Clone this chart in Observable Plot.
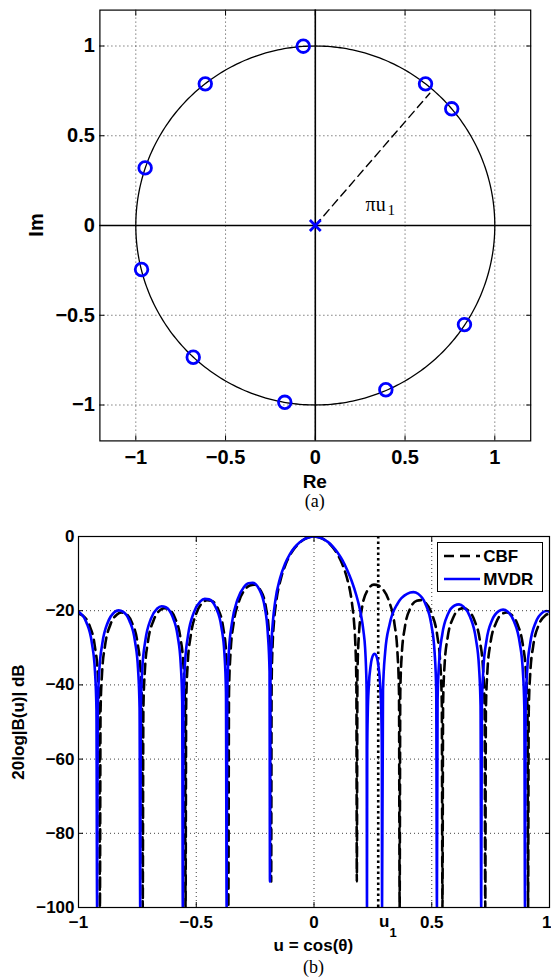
<!DOCTYPE html>
<html><head><meta charset="utf-8">
<script src="https://cdn.jsdelivr.net/npm/d3@7"></script>
<script src="https://cdn.jsdelivr.net/npm/@observablehq/plot@0.6"></script>
<style>
html,body{margin:0;padding:0;background:#fff;}
#wrap{position:relative;width:551px;height:977px;overflow:hidden;background:#fff;}
#wrap svg{position:absolute;left:0;}
.abs{position:absolute;white-space:nowrap;line-height:1;color:#000;z-index:2;}
.lab{font-family:"Liberation Sans",Arial,sans-serif;font-weight:bold;}
.cap{font-family:"Liberation Serif","Times New Roman",serif;}
</style></head><body><div id="wrap"></div>
<script>
// ---------- (a) zeros of the MVDR beampattern on the unit circle ----------
const zeroRe = [-0.067, -0.613, -0.948, -0.968, -0.680, -0.170, 0.393, 0.831, 0.760, 0.614];
const zeroIm = [ 0.999,  0.789,  0.321, -0.245, -0.734, -0.985, -0.915, -0.552, 0.650, 0.789];
const armRe = [0, 0.638];          // dashed radius at angle pi*u1
const armIm = [0, 0.737];
const originRe = [0];
const originIm = [0];
const armLabelPos = [0.28, 0.117];
const ticksA = [-1, -0.5, 0, 0.5, 1];

// ---------- (b) beampatterns ----------
const u1 = 0.2727;
const cbfU = [
 -1, -0.9818, -0.9545, -0.9309, -0.9182, -0.9118, -0.9091,
 -0.9064, -0.9, -0.8873, -0.8636, -0.8364, -0.8182, -0.8, -0.7727, -0.7491, -0.7364, -0.73, -0.7273,
 -0.7245, -0.7182, -0.7055, -0.6818, -0.6545, -0.6364, -0.6182, -0.5909, -0.5673, -0.5545, -0.5482, -0.5455,
 -0.5427, -0.5364, -0.5236, -0.5, -0.4727, -0.4545, -0.4364, -0.4091, -0.3855, -0.3727, -0.3664, -0.3636,
 -0.3609, -0.3545, -0.3418, -0.3182, -0.2909, -0.2727, -0.2545, -0.2273, -0.2036, -0.1909, -0.1846, -0.1818,
 -0.18, -0.175, -0.17, -0.16, -0.14, -0.12, -0.10, -0.08, -0.06, -0.04, -0.02,
 0,
 0.02, 0.04, 0.06, 0.08, 0.10, 0.12, 0.14, 0.16, 0.17, 0.175, 0.18,
 0.1818, 0.1846, 0.1909, 0.2036, 0.2273, 0.2545, 0.2727, 0.2909, 0.3182, 0.3418, 0.3545, 0.3609,
 0.3636, 0.3664, 0.3727, 0.3855, 0.4091, 0.4364, 0.4545, 0.4727, 0.5, 0.5236, 0.5364, 0.5427,
 0.5455, 0.5482, 0.5545, 0.5673, 0.5909, 0.6182, 0.6364, 0.6545, 0.6818, 0.7055, 0.7182, 0.7245,
 0.7273, 0.73, 0.7364, 0.7491, 0.7727, 0.8, 0.8182, 0.8364, 0.8636, 0.8873, 0.9, 0.9064,
 0.9091, 0.9118, 0.9182, 0.9309, 0.9545, 0.9818, 1
];
const cbfDb = [
 -20.8, -21.3, -23.8, -29.5, -36.9, -47.2, -100,
 -47.2, -36.8, -29.4, -23.6, -21.0, -20.5, -20.8, -23.3, -28.8, -36.2, -46.5, -100,
 -46.5, -36.1, -28.5, -22.7, -19.9, -19.3, -19.6, -21.9, -27.3, -34.6, -44.9, -100,
 -44.9, -34.4, -26.8, -20.8, -17.8, -17.15, -17.3, -19.3, -24.6, -31.8, -42.0, -100,
 -41.9, -31.4, -23.6, -17.4, -14.1, -13.2, -12.96, -14.5, -19.3, -26.3, -36.4, -93,
 -39.8, -28.1, -23.1, -17.4, -11.2, -7.43, -4.82, -2.94, -1.60, -0.70, -0.17,
 0,
 -0.17, -0.70, -1.60, -2.94, -4.82, -7.43, -11.2, -17.4, -23.1, -28.1, -39.8,
 -93, -36.4, -26.3, -19.3, -14.5, -12.96, -13.2, -14.1, -17.4, -23.6, -31.4, -41.9,
 -100, -42.0, -31.8, -24.6, -19.3, -17.3, -17.15, -17.8, -20.8, -26.8, -34.4, -44.9,
 -100, -44.9, -34.6, -27.3, -21.9, -19.6, -19.3, -19.9, -22.7, -28.5, -36.1, -46.5,
 -100, -46.5, -36.2, -28.8, -23.3, -20.8, -20.5, -21.0, -23.6, -29.4, -36.8, -47.2,
 -100, -47.2, -36.9, -29.5, -23.8, -21.3, -20.8
];
const mvdrU = [
 -1, -0.9942, -0.9668, -0.943, -0.9302, -0.9238, -0.921,
 -0.9183, -0.9119, -0.899, -0.8753, -0.8478, -0.8295, -0.8112, -0.7838, -0.760, -0.7472, -0.7407, -0.738,
 -0.7353, -0.729, -0.7163, -0.6928, -0.6656, -0.6475, -0.6294, -0.6023, -0.5787, -0.5661, -0.5597, -0.557,
 -0.5542, -0.5477, -0.5347, -0.5105, -0.4826, -0.464, -0.4454, -0.4175, -0.3933, -0.3803, -0.3738, -0.371,
 -0.3682, -0.3618, -0.3489, -0.325, -0.2974, -0.279, -0.2606, -0.233, -0.2091, -0.1962, -0.1888, -0.187,
 -0.1851, -0.18, -0.1748, -0.1646, -0.144, -0.1234, -0.1029, -0.0823, -0.0617, -0.0411, -0.0206,
 0,
 0.02, 0.04, 0.06, 0.08, 0.10, 0.12, 0.14, 0.16, 0.18, 0.19, 0.195, 0.20, 0.21, 0.217, 0.221, 0.2235, 0.225,
 0.226, 0.2282, 0.2327, 0.241, 0.2506, 0.257, 0.2634, 0.273, 0.2813, 0.2858, 0.288, 0.289,
 0.293, 0.3023, 0.3209, 0.3555, 0.3954, 0.422, 0.442, 0.472, 0.498, 0.512, 0.519, 0.522,
 0.5248, 0.5314, 0.5446, 0.569, 0.5972, 0.616, 0.6348, 0.663, 0.6874, 0.7006, 0.7072, 0.71,
 0.7128, 0.7193, 0.7323, 0.7565, 0.7844, 0.803, 0.8216, 0.8495, 0.8737, 0.8867, 0.8932, 0.896,
 0.8987, 0.9052, 0.918, 0.9418, 0.9692, 0.9875, 1
];
const mvdrDb = [
 -20.3, -20.54, -23.1, -28.8, -36.2, -46.6, -100,
 -46.7, -36.3, -28.9, -23.1, -20.4, -19.9, -20.27, -22.7, -28.3, -35.7, -46.1, -100,
 -46.1, -35.6, -28.1, -22.2, -19.4, -18.8, -19.08, -21.4, -26.9, -34.2, -44.5, -100,
 -44.7, -34.2, -26.6, -20.5, -17.5, -16.8, -16.95, -19.1, -24.4, -31.6, -41.9, -100,
 -41.9, -31.3, -23.5, -17.0, -13.6, -12.6, -12.5, -14.2, -19.1, -26.1, -36.3, -93,
 -39.8, -28.1, -23.1, -17.4, -11.2, -7.43, -4.82, -2.94, -1.60, -0.70, -0.17,
 0,
 -0.17, -0.68, -1.52, -2.7, -4.3, -6.3, -8.9, -12.0, -15.9, -18.3, -19.7, -21.3, -25.5, -30.0, -35.5, -42, -100,
 -58.1, -47.7, -40.3, -34.6, -32.0, -31.6, -32.0, -34.6, -40.3, -47.7, -58.1, -100,
 -41.5, -31.1, -23.7, -18.0, -15.44, -15.0, -15.44, -18.0, -23.7, -31.1, -41.5, -100,
 -44.0, -33.7, -26.4, -20.9, -18.6, -18.3, -18.9, -21.7, -27.6, -35.1, -45.6, -100,
 -45.9, -35.5, -28.1, -22.5, -20.1, -19.7, -20.2, -22.9, -28.7, -36.1, -46.5, -100,
 -46.6, -36.2, -28.8, -23.1, -20.54, -20.1, -20.3
];
const xTicksB = [-1, -0.5, 0, 0.5, 1];
const xGridB = [-0.5, 0, 0.5];
const yTicksB = [0, -20, -40, -60, -80, -100];
const yGridB = [-20, -40, -60, -80];
const seriesNames = ["CBF", "MVDR"];

// ---------- helpers ----------
const fmt = d => d === 0 ? "0" : (d < 0 ? "\u2212" : "") + Math.abs(d);
const wrap = document.getElementById("wrap");
function addText(txt, cls, x, y, size, rotate) {
  const el = document.createElement("div");
  el.className = "abs " + cls;
  el.textContent = txt;
  el.style.left = x + "px";
  el.style.top = y + "px";
  el.style.fontSize = size + "px";
  el.style.transform = "translate(-50%,-50%)" + (rotate ? " rotate(-90deg)" : "");
  wrap.appendChild(el);
  return el;
}

// ---------- chart (a) ----------
const zeros = zeroRe.map((re, i) => ({re, im: zeroIm[i]}));
const arm = armRe.map((re, i) => ({re, im: armIm[i]}));
const origin = originRe.map((re, i) => ({re, im: originIm[i]}));
// reference unit circle |z| = 1 (geometry, not data)
const unitCircle = d3.range(0, 361, 1).map(a => ({re: Math.cos(a * Math.PI / 180), im: Math.sin(a * Math.PI / 180)}));
const dotted = {stroke: "#000", strokeOpacity: 0.75, strokeWidth: 1, strokeDasharray: "1,3"};

const chartA = Plot.plot({
  width: 551, height: 470,
  marginLeft: 99.4, marginRight: 20.8, marginTop: 9.6, marginBottom: 29.6,
  x: {domain: [-1.2, 1.2]},
  y: {domain: [-1.2, 1.2]},
  style: {fontFamily: "'Liberation Sans', Arial, sans-serif", fontSize: "20px", fontWeight: "bold", background: "white", color: "#000"},
  marks: [
    Plot.gridX(ticksA, dotted),
    Plot.gridY(ticksA, dotted),
    Plot.ruleX([0], {stroke: "#000", strokeWidth: 1.6}),
    Plot.ruleY([0], {stroke: "#000", strokeWidth: 1.6}),
    Plot.line(unitCircle, {x: "re", y: "im", stroke: "#000", strokeWidth: 1.3}),
    Plot.line(arm, {x: "re", y: "im", stroke: "#000", strokeWidth: 1.4, strokeDasharray: "8,5"}),
    Plot.dot(zeros, {x: "re", y: "im", r: 6.3, stroke: "#0000ff", strokeWidth: 2.8, fill: "none"}),
    Plot.dot(origin, {x: "re", y: "im", symbol: "times", r: 5, stroke: "#0000ff", strokeWidth: 2.8}),
    Plot.text(["\u03c0u"], {x: armLabelPos[0], y: armLabelPos[1], text: d => d, textAnchor: "start",
      fontFamily: "'Liberation Serif', 'Times New Roman', serif", fontWeight: "normal", fontSize: 20}),
    Plot.text(["1"], {x: armLabelPos[0], y: armLabelPos[1], text: d => d, textAnchor: "start", dx: 22, dy: 6,
      fontFamily: "'Liberation Serif', 'Times New Roman', serif", fontWeight: "normal", fontSize: 15}),
    Plot.frame({stroke: "#000", strokeWidth: 1.2}),
    Plot.axisX({ticks: ticksA, tickSize: 0, tickPadding: 9, tickFormat: fmt, label: null}),
    Plot.axisY({ticks: ticksA, tickSize: 0, tickPadding: 5, tickFormat: fmt, label: null}),
    Plot.axisX({ticks: ticksA, anchor: "bottom", tickSize: -5, tickFormat: () => "", label: null}),
    Plot.axisX({ticks: ticksA, anchor: "top", tickSize: -5, tickFormat: () => "", label: null}),
    Plot.axisY({ticks: ticksA, anchor: "left", tickSize: -5, tickFormat: () => "", label: null}),
    Plot.axisY({ticks: ticksA, anchor: "right", tickSize: -5, tickFormat: () => "", label: null})
  ]
});
chartA.style.top = "0px";
wrap.appendChild(chartA);
addText("Re", "lab", 314.8, 481, 19);
addText("Im", "lab", 36, 225, 20, true);
addText("(a)", "cap", 314.8, 501, 18);

// ---------- chart (b) ----------
const cbf = cbfU.map((u, i) => ({u, db: cbfDb[i]}));
const mvdr = mvdrU.map((u, i) => ({u, db: mvdrDb[i]}));

const chartB = Plot.plot({
  width: 551, height: 446,
  marginLeft: 78, marginRight: 2, marginTop: 36, marginBottom: 39,
  x: {domain: [-1, 1]},
  y: {domain: [-100, 0]},
  style: {fontFamily: "'Liberation Sans', Arial, sans-serif", fontSize: "17px", fontWeight: "bold", background: "white", color: "#000"},
  marks: [
    Plot.gridX(xGridB, dotted),
    Plot.gridY(yGridB, dotted),
    Plot.ruleX([u1], {stroke: "#000", strokeWidth: 2.6, strokeDasharray: "2.5,3"}),
    Plot.line(cbf, {x: "u", y: "db", stroke: "#000", strokeWidth: 2.6, strokeDasharray: "10,6", curve: "monotone-x", clip: true}),
    Plot.line(mvdr, {x: "u", y: "db", stroke: "#0000ff", strokeWidth: 2.6, curve: "monotone-x", clip: true}),
    Plot.frame({stroke: "#000", strokeWidth: 1.2}),
    Plot.axisX({ticks: xTicksB.slice(0, 4), tickSize: 0, tickPadding: 8, tickFormat: fmt, label: null}),
    Plot.text([xTicksB[4]], {x: d => d, y: () => -100, text: fmt, textAnchor: "end", lineAnchor: "top", dx: 2, dy: 8}),
    Plot.axisY({ticks: yTicksB, tickSize: 0, tickPadding: 4, tickFormat: fmt, label: null}),
    Plot.axisX({ticks: xTicksB, anchor: "bottom", tickSize: -5, tickFormat: () => "", label: null}),
    Plot.axisX({ticks: xTicksB, anchor: "top", tickSize: -5, tickFormat: () => "", label: null}),
    Plot.axisY({ticks: yTicksB, anchor: "left", tickSize: -5, tickFormat: () => "", label: null}),
    Plot.axisY({ticks: yTicksB, anchor: "right", tickSize: -5, tickFormat: () => "", label: null}),
    Plot.text([u1], {x: d => d, y: () => -100, text: () => "u", dx: 6, dy: 14, fontSize: 17}),
    Plot.text([u1], {x: d => d, y: () => -100, text: () => "1", dx: 15, dy: 25, fontSize: 13})
  ]
});
chartB.style.top = "500px";
wrap.appendChild(chartB);
addText("u = cos(\u03b8)", "lab", 313.4, 945, 17);
addText("(b)", "cap", 313.4, 967, 18);
addText("20log|B(u)| dB", "lab", 18.3, 721.5, 17, true);

// legend
const leg = document.createElement("div");
leg.className = "abs";
Object.assign(leg.style, {left: "436.7px", top: "542.3px", width: "104.6px", height: "47.7px",
  border: "1.2px solid #000", background: "#fff"});
wrap.appendChild(leg);
const legStyles = [{stroke: "#000", dash: "10,6"}, {stroke: "#0000ff", dash: null}];
seriesNames.forEach((name, i) => {
  const yc = 556 + i * 23;
  const sw = document.createElementNS("http://www.w3.org/2000/svg", "svg");
  sw.setAttribute("width", 40); sw.setAttribute("height", 8);
  Object.assign(sw.style, {position: "absolute", left: "443px", top: (yc - 4) + "px", zIndex: 3});
  const ln = document.createElementNS("http://www.w3.org/2000/svg", "line");
  ln.setAttribute("x1", 1); ln.setAttribute("x2", 37); ln.setAttribute("y1", 4); ln.setAttribute("y2", 4);
  ln.setAttribute("stroke", legStyles[i].stroke); ln.setAttribute("stroke-width", 2.6);
  if (legStyles[i].dash) ln.setAttribute("stroke-dasharray", legStyles[i].dash);
  sw.appendChild(ln);
  wrap.appendChild(sw);
  const t = document.createElement("div");
  t.className = "abs lab";
  t.textContent = name;
  Object.assign(t.style, {left: "483.3px", top: (yc - 8.5) + "px", fontSize: "17px", zIndex: 3});
  wrap.appendChild(t);
});
</script></body></html>
